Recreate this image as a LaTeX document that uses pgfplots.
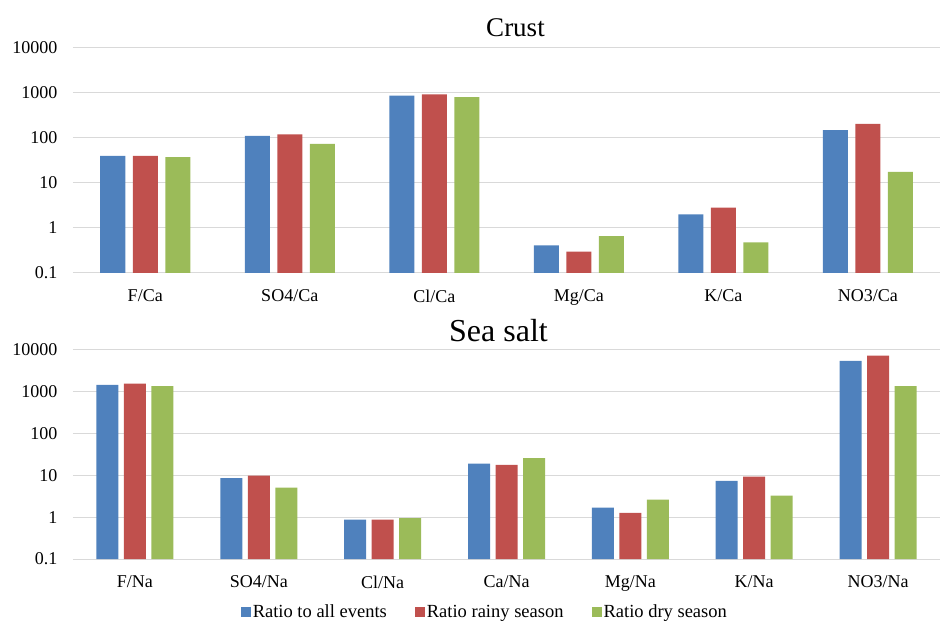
\documentclass[border=0pt]{standalone}
\usepackage{pgfplots}
\pgfplotsset{compat=1.18}
\usepackage{fontspec}
\setmainfont{Liberation Serif}

\definecolor{serBlue}{HTML}{4F81BD}
\definecolor{serRed}{HTML}{C0504D}
\definecolor{serGreen}{HTML}{9BBB59}
\definecolor{gridGray}{HTML}{D9D9D9}

\pgfplotsset{
  ratiostyle/.style={
    scale only axis,
    width=867pt,
    ymin=0.1, ymax=10000,
    ytick={0.1,1,10,100,1000,10000},
    yticklabels={0.1,1,10,100,1000,10000},
    ymajorgrids,
    yminorticks=false,
    major grid style={gridGray, line width=1pt},
    axis line style={draw=none},
    major tick length=0pt,
    minor tick length=0pt,
    xtick=data,
    /pgf/number format/assume math mode=true,
    tick label style={font=\fontsize{18}{20}\selectfont},
    yticklabel style={xshift=-12pt},
    xticklabel style={yshift=-13pt},
  },
}

\begin{document}
\begin{tikzpicture}
\path[use as bounding box] (0,0) rectangle (942pt,621pt);

% Crust ratios
\begin{axis}[
  ymode=log, log origin=infty,
  ratiostyle,
  at={(73pt,348pt)}, anchor=south west,
  height=225pt,
  xmin=-0.5, xmax=5.5,
  xticklabels={F/Ca,SO4/Ca,Cl/Ca,Mg/Ca,K/Ca,NO3/Ca},
  ybar=7.5pt, bar width=25pt,
  title={Crust},
  title style={font=\fontsize{27}{30}\selectfont, at={(0.5,1)}, anchor=base, xshift=9pt, yshift=5pt},
]
\addplot[fill=serBlue, draw=none] coordinates {(0,40.2) (1,112) (2,871) (3,0.41) (4,2.0) (5,150)};
\addplot[fill=serRed, draw=none] coordinates {(0,40.2) (1,120) (2,933) (3,0.30) (4,2.84) (5,207)};
\addplot[fill=serGreen, draw=none] coordinates {(0,37.5) (1,74) (2,814) (3,0.66) (4,0.48) (5,17.7)};
\end{axis}

% Sea salt ratios
\begin{axis}[
  ymode=log, log origin=infty,
  ratiostyle,
  at={(73pt,62pt)}, anchor=south west,
  height=209pt,
  xmin=-0.5, xmax=6.5,
  xticklabels={F/Na,SO4/Na,Cl/Na,Ca/Na,Mg/Na,K/Na,NO3/Na},
  ybar=5.5pt, bar width=22pt,
  title={Sea salt},
  title style={font=\fontsize{32}{36}\selectfont, at={(0.5,1)}, anchor=base, xshift=-8pt, yshift=2pt},
  legend columns=3,
  legend image code/.code={\fill[#1] (0pt,-5pt) rectangle (10pt,5pt);},
  legend style={draw=none, fill=none, at={(0.475,-0.2)}, anchor=north,
    font=\fontsize{18.5}{20}\selectfont,
    /tikz/every even column/.append style={column sep=26pt}},
]
\addplot[fill=serBlue, draw=none] coordinates {(0,1465) (1,8.6) (2,0.88) (3,19.2) (4,1.70) (5,7.4) (6,5500)};
\addplot[fill=serRed, draw=none] coordinates {(0,1577) (1,9.9) (2,0.88) (3,17.9) (4,1.27) (5,9.4) (6,7380)};
\addplot[fill=serGreen, draw=none] coordinates {(0,1361) (1,5.1) (2,0.95) (3,25.8) (4,2.65) (5,3.3) (6,1360)};
\legend{Ratio to all events, Ratio rainy season, Ratio dry season}
\end{axis}
\end{tikzpicture}
\end{document}
